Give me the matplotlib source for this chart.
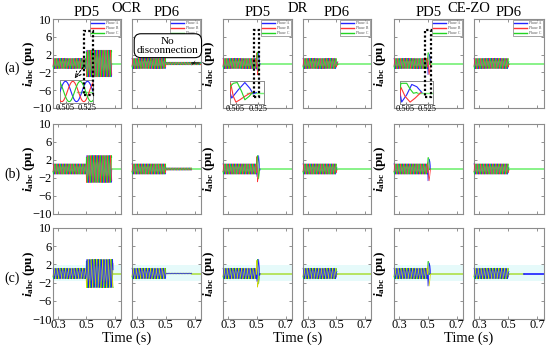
"""Three-phase currents at PD5 / PD6 for OCR, DR and CE-ZO protection schemes."""

import numpy as np
import matplotlib
matplotlib.use("Agg")
import matplotlib.pyplot as plt
from matplotlib.lines import Line2D
from matplotlib.patches import Rectangle

plt.rcParams["font.family"] = "serif"
plt.rcParams["font.serif"] = ["Liberation Serif", "DejaVu Serif"]
plt.rcParams["mathtext.fontset"] = "custom"
plt.rcParams["mathtext.rm"] = "Liberation Serif:bold"
plt.rcParams["mathtext.it"] = "Liberation Serif:bold:italic"
plt.rcParams["mathtext.bf"] = "Liberation Serif:bold"

ROW_LABELS = ["(a)", "(b)", "(c)"]
METHODS = ["OCR", "DR", "CE-ZO"]
DEVICES = ["PD5", "PD6"]
PHASES = ["Phase A", "Phase B", "Phase C"]
Y_TICKS = [-10, -6, -2, 2, 6, 10]
X_TICKS = [0.3, 0.5, 0.7]
INSET_TICKS = [0.505, 0.525]

FREQ = 50.0
# one cycle of the normalised phase current, 24 samples
SINE_CYCLE = [0.0, 0.26, 0.5, 0.71, 0.87, 0.97, 1.0, 0.97, 0.87, 0.71, 0.5, 0.26,
              0.0, -0.26, -0.5, -0.71, -0.87, -0.97, -1.0, -0.97, -0.87, -0.71, -0.5, -0.26]
PHASE_SHIFT = [0, 16, 8]

T_START, T_END = 0.265, 0.745
FAULT_T = 0.5
PRE_AMP = 1.15

# per row (a), (b), (c)
OCR_PD5_END = [0.68, 0.68, 0.69]
OCR_PD5_AMP = [3.0, 3.0, 3.1]
OCR_PD6_END = [0.745, 0.68, 0.68]
OCR_PD6_AMP = [0.3, 0.25, 0.08]
DR_PD6_END = [0.512, 0.505, 0.505]
CZ_PD6_END = [0.505, 0.505, 0.505]
PD6_TAIL_AMP = 0.4
DR_GAIN = [1.0, 1.15, 1.2]
CZ_GAIN = [1.0, 1.05, 1.1]
CZ_PD6_C_BLUE_FROM = 0.61

# transient after the fault
DR_A_T = [0.5015, 0.5073, 0.5131, 0.5175, 0.5204, 0.5233]
DR_A_V = [-1.45, 0.7, 2.6, 1.1, -0.35, 0.0]
DR_B_T = [0.5006, 0.5029, 0.5052, 0.5087, 0.5131, 0.5175, 0.5204]
DR_B_V = [2.4, -1.0, -2.5, -1.9, -1.0, -0.2, 0.0]
DR_C_T = [0.5, 0.5029, 0.5064, 0.5102, 0.5131, 0.5169, 0.5198]
DR_C_V = [1.5, 2.4, 2.6, 0.3, -1.9, -1.0, 0.0]

CZ_A_T = [0.5015, 0.5061, 0.5107, 0.5153, 0.5199]
CZ_A_V = [-2.5, -0.6, 2.1, 1.5, 0.0]
CZ_B_T = [0.5006, 0.5046, 0.5092, 0.5138, 0.519]
CZ_B_V = [1.5, -1.0, -2.5, -1.45, 0.0]
CZ_C_T = [0.5009, 0.5061, 0.5092, 0.5122, 0.5153]
CZ_C_V = [2.4, 2.4, 0.9, -0.2, 0.0]

DR_TRANSIENT = ([DR_A_T, DR_B_T, DR_C_T], [DR_A_V, DR_B_V, DR_C_V])
CZ_TRANSIENT = ([CZ_A_T, CZ_B_T, CZ_C_T], [CZ_A_V, CZ_B_V, CZ_C_V])

COLORS_AB = ["#2424ff", "#ff3434", "#22d422"]
COLORS_C = ["#1c1cff", "#d4d400", "#30c030"]
POST_COLORS = ["#74f074", "#74f074", "#aee048"]

W, H = 550, 345
COL_PX = [(53, 121), (132, 201), (223, 292), (303, 371), (394, 463), (474, 544)]
ROW_PX = [(19, 108), (124, 214), (228, 319)]


def px_rect(x0, x1, y0, y1):
    return [x0 / W, 1 - y1 / H, (x1 - x0) / W, (y1 - y0) / H]


def phase_wave(t, amp, k):
    idx = (np.floor(t * FREQ * 24 + 1e-9).astype(int) + PHASE_SHIFT[k]) % 24
    return amp * np.asarray(SINE_CYCLE)[idx]


def draw_waves(ax, segments, colors, transient=None, gain=1.0, lw=0.5, order=(0, 1, 2)):
    step = 1.0 / (FREQ * 24)
    for k in order:
        ts, vs = [], []
        for t0, t1, amp in segments:
            t = np.arange(t0, t1, step)
            ts.append(t)
            vs.append(phase_wave(t, amp, k))
        if transient is not None:
            ts.append(np.asarray(transient[0][k]))
            vs.append(np.asarray(transient[1][k]) * gain)
        ax.plot(np.concatenate(ts), np.concatenate(vs), color=colors[k], lw=lw,
                zorder=3, clip_on=False)


def style_axis(ax, r, c):
    ax.set_xlim(T_START, T_END)
    ax.set_ylim(-10, 10)
    ax.set_yticks(Y_TICKS)
    ax.set_xticks(X_TICKS)
    ax.set_xticklabels([f"{v:.1f}" for v in X_TICKS])
    ax.tick_params(direction="in", length=2.5, width=0.6, color="#808080",
                   top=True, right=True, labelsize=9, pad=1)
    ax.tick_params(axis="x", pad=0.3)
    ax.tick_params(labelleft=(c == 0), labelbottom=(r == 2))
    for sp in ax.spines.values():
        sp.set_color("#8c8c8c")
        sp.set_linewidth(0.8)
    if c % 2 == 0:
        ax.set_ylabel(r"$i_{\mathbf{abc}}$ (pu)", fontsize=9.5, fontweight="bold")
        ax.yaxis.set_label_coords(-0.235 if c == 0 else -0.09, 0.5)


def draw_inset(fig, ax, rect_px, segments, transient, gain, zoom_box, ylim):
    ins = fig.add_axes(px_rect(*rect_px))
    draw_waves(ins, segments, COLORS_AB, transient, gain, lw=0.8)
    ins.plot([0.515, 0.53], [0, 0], color=POST_COLORS[0], lw=1.0, zorder=2)
    ins.set_xlim(0.5, 0.53)
    ins.set_ylim(*ylim)
    ins.set_yticks([])
    ins.set_xticks(INSET_TICKS)
    ins.set_xticklabels([f"{v:.3f}" for v in INSET_TICKS])
    ins.tick_params(direction="in", length=1.5, labelsize=6, pad=0.5, color="#808080")
    for sp in ins.spines.values():
        sp.set_color("#8c8c8c")
        sp.set_linewidth(0.7)
    for line in ins.lines:
        line.set_clip_on(True)
    x0, x1, y0, y1 = zoom_box
    fig.add_artist(Rectangle((x0, y0), x1 - x0, y1 - y0, transform=ax.transData,
                             fill=False, ec="black", lw=1.6, ls=(0, (1, 1)),
                             zorder=5))


def main():
    fig = plt.figure(figsize=(W / 100, H / 100), dpi=100)

    for r in range(3):
        y0, y1 = ROW_PX[r]
        colors = COLORS_C if r == 2 else COLORS_AB
        order = (2, 1, 0) if r == 2 else (0, 1, 2)
        post = POST_COLORS[r]
        pre = (T_START, FAULT_T, PRE_AMP)
        axes = []
        for c in range(6):
            ax = fig.add_axes(px_rect(*COL_PX[c], y0, y1))
            axes.append(ax)
            style_axis(ax, r, c)
            if r == 2:
                ax.axhspan(-1.6, 1.9, color="#e6fafa", zorder=0, lw=0)

        # OCR
        seg5 = [pre, (FAULT_T, OCR_PD5_END[r], OCR_PD5_AMP[r])]
        draw_waves(axes[0], seg5, colors, order=order)
        axes[0].plot([OCR_PD5_END[r], T_END], [0, 0], color=post, lw=1.2, zorder=2)
        seg6 = [pre, (FAULT_T, OCR_PD6_END[r], OCR_PD6_AMP[r])]
        draw_waves(axes[1], seg6, colors, lw=0.5, order=order)
        axes[1].plot([OCR_PD6_END[r], T_END], [0, 0], color=post, lw=1.2, zorder=2)

        # DR
        draw_waves(axes[2], [pre], colors, DR_TRANSIENT, DR_GAIN[r], order=order)
        axes[2].plot([0.52, T_END], [0, 0], color=post, lw=1.2, zorder=2)
        draw_waves(axes[3], [pre, (FAULT_T, DR_PD6_END[r], PD6_TAIL_AMP)], colors,
                   order=order)
        axes[3].plot([DR_PD6_END[r], T_END], [0, 0], color=post, lw=1.2, zorder=2)

        # CE-ZO
        draw_waves(axes[4], [pre], colors, CZ_TRANSIENT, CZ_GAIN[r], order=order)
        axes[4].plot([0.518, T_END], [0, 0], color=post, lw=1.2, zorder=2)
        draw_waves(axes[5], [pre, (FAULT_T, CZ_PD6_END[r], PD6_TAIL_AMP)], colors,
                   order=order)
        if r == 2:
            axes[5].plot([CZ_PD6_END[r], CZ_PD6_C_BLUE_FROM], [0, 0], color=post,
                         lw=1.2, zorder=2)
            axes[5].plot([CZ_PD6_C_BLUE_FROM, T_END], [0, 0], color=colors[0],
                         lw=1.2, zorder=2)
        else:
            axes[5].plot([CZ_PD6_END[r], T_END], [0, 0], color=post, lw=1.2, zorder=2)

        fig.text(12 / W, 1 - ((y0 + y1) / 2 + 5) / H, ROW_LABELS[r], fontsize=10,
                 ha="center", va="center")

        if r == 0:
            for c, ax in enumerate(axes):
                ax.set_title(DEVICES[c % 2], fontsize=10.5, pad=1.5)
                handles = [Line2D([], [], color=col, lw=1.0) for col in COLORS_AB]
                leg = ax.legend(handles, PHASES, loc="upper right", fontsize=2.8,
                                handlelength=3.5, borderpad=0.3, labelspacing=0.25,
                                handletextpad=0.5, borderaxespad=0.3, frameon=True,
                                fancybox=False, edgecolor="#606060")
                leg.get_frame().set_linewidth(0.5)
                for txt in leg.get_texts():
                    txt.set_color("#555555")

            draw_inset(fig, axes[0], (60, 93, 80, 103),
                       [(0.5, 0.53, OCR_PD5_AMP[0])], None, 1.0,
                       (0.483, 0.546, -7.1, 7.3), (-3.4, 3.4))
            axes[0].annotate("", xy=(0.405, -3.8), xytext=(0.49, -0.4),
                             arrowprops=dict(arrowstyle="->", ls=(0, (2, 1.5)),
                                             lw=0.8, color="black"), zorder=6)
            draw_inset(fig, axes[2], (230, 264, 81, 104), [(0.49, 0.5, PRE_AMP)],
                       DR_TRANSIENT, 1.0, (0.479, 0.514, -7.5, 7.5), (-3.0, 3.0))
            draw_inset(fig, axes[4], (400, 433, 81, 104), [(0.49, 0.5, PRE_AMP)],
                       CZ_TRANSIENT, 1.0, (0.479, 0.521, -7.5, 7.5), (-3.0, 3.0))

            axes[1].text(0.52, 0.70, "No\ndisconnection", transform=axes[1].transAxes,
                         ha="center", va="center", fontsize=8, linespacing=1.05,
                         zorder=7, clip_on=False,
                         bbox=dict(boxstyle="round,pad=0.25,rounding_size=0.6",
                                   fc="white", ec="black", lw=0.8))
            axes[1].text(0.92, 0.5, "\u2260=", transform=axes[1].transAxes,
                         ha="center", va="center", fontsize=6.5, zorder=7,
                         clip_on=False)

    for m, method in enumerate(METHODS):
        xc = (COL_PX[2 * m][1] + COL_PX[2 * m + 1][0]) / 2
        fig.text(xc / W, 1 - 8 / H, method, fontsize=10.5, ha="center", va="center")
        fig.text(xc / W, 1 - 338 / H, "Time (s)", fontsize=10.5, ha="center",
                 va="center")

    fig.savefig("out.png", dpi=100)


if __name__ == "__main__":
    main()
